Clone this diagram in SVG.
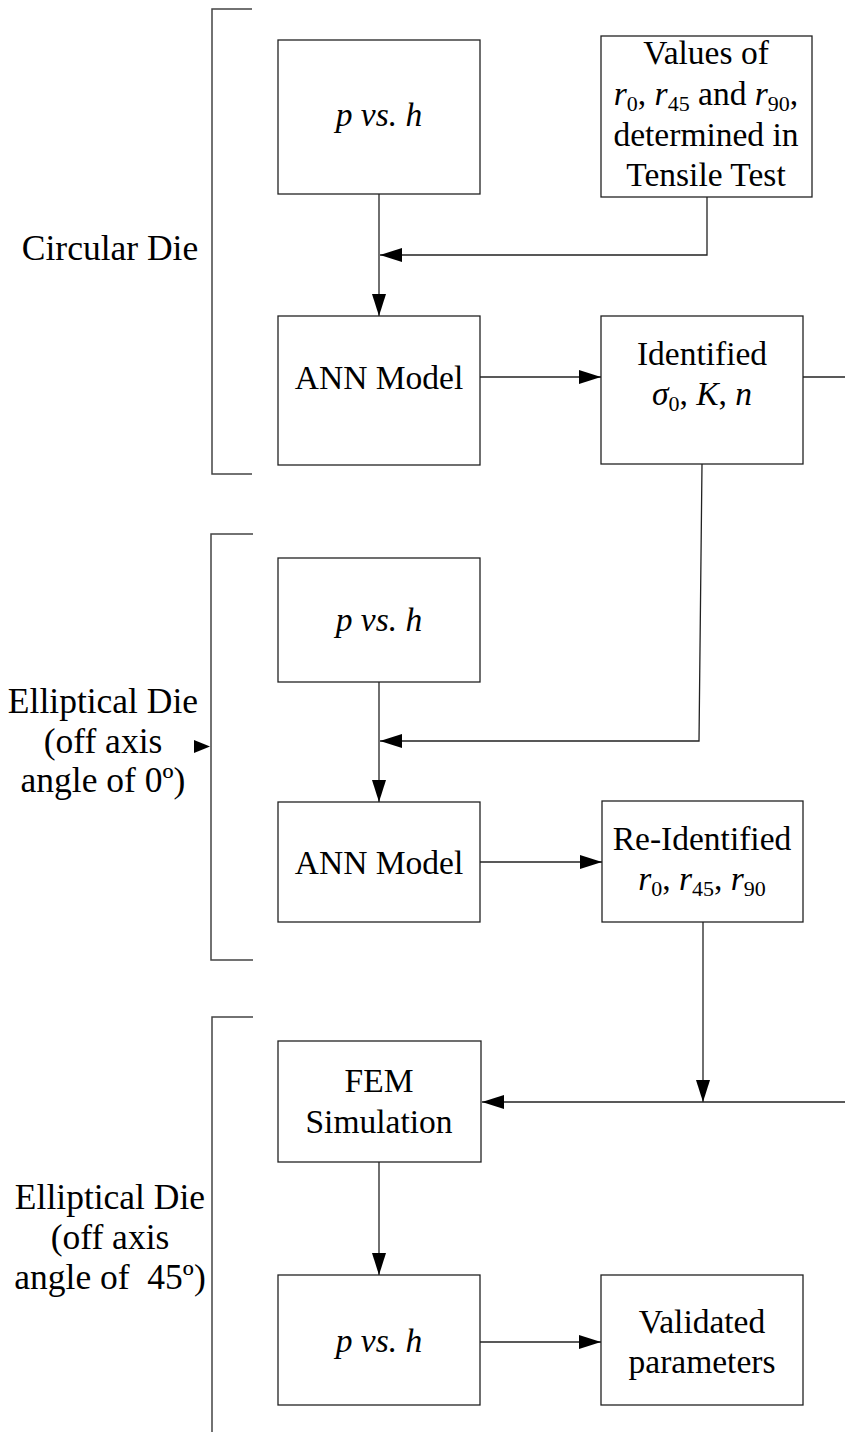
<svg xmlns="http://www.w3.org/2000/svg" width="845" height="1432" viewBox="0 0 845 1432">
  <style>
    .box { fill: #fff; stroke: #222; stroke-width: 1.3; }
    .ln { fill: none; stroke: #222; stroke-width: 1.3; }
    .br { fill: none; stroke: #444; stroke-width: 1.5; }
    text { font-family: 'Liberation Serif', 'Times New Roman', serif; font-size: 33.5px; fill: #000; text-anchor: middle; }
    .lbl { font-size: 35.5px; }
    .i { font-style: italic; }
    .sub { font-size: 22px; }
  </style>
  <defs>
    <marker id="arr" viewBox="0 0 22 14" refX="22" refY="7" markerWidth="22" markerHeight="14" markerUnits="userSpaceOnUse" orient="auto">
      <path d="M0,0 L22,7 L0,14 Z" fill="#000"/>
    </marker>
  </defs>

  <!-- section brackets and labels -->
  <g id="brackets">
    <path class="br" d="M252,9 H212 V474 H252"/>
    <path class="br" d="M253,534 H211 V960 H253"/>
    <path class="br" d="M253,1017 H212 V1432"/>
  </g>
  <g id="label-circular">
    <text class="lbl" x="110" y="260">Circular Die</text>
  </g>
  <g id="label-elliptical-0">
    <text class="lbl" x="103" y="713">Elliptical Die</text>
    <text class="lbl" x="103" y="753">(off axis</text>
    <text class="lbl" x="103" y="792">angle of 0º)</text>
  </g>
  <g id="label-elliptical-45">
    <text class="lbl" x="110" y="1209">Elliptical Die</text>
    <text class="lbl" x="110" y="1249">(off axis</text>
    <text class="lbl" x="110" y="1289" xml:space="preserve">angle of  45º)</text>
  </g>

  <!-- nodes -->
  <g id="n-pvsh-1">
    <rect class="box" x="278" y="40" width="202" height="154"/>
    <text x="379" y="126" class="i">p vs. h</text>
  </g>
  <g id="n-values">
    <rect class="box" x="601" y="36" width="211" height="161"/>
    <text x="706" y="64">Values of</text>
    <text x="706" y="105"><tspan class="i">r</tspan><tspan class="sub" dy="6">0</tspan><tspan dy="-6">, </tspan><tspan class="i">r</tspan><tspan class="sub" dy="6">45</tspan><tspan dy="-6"> and </tspan><tspan class="i">r</tspan><tspan class="sub" dy="6">90</tspan><tspan dy="-6">,</tspan></text>
    <text x="706" y="146">determined in</text>
    <text x="706" y="186">Tensile Test</text>
  </g>
  <g id="n-ann-1">
    <rect class="box" x="278" y="316" width="202" height="149"/>
    <text x="379" y="389">ANN Model</text>
  </g>
  <g id="n-identified">
    <rect class="box" x="601" y="316" width="202" height="148"/>
    <text x="702" y="365">Identified</text>
    <text x="702" y="405"><tspan class="i">σ</tspan><tspan class="sub" dy="6">0</tspan><tspan dy="-6">, </tspan><tspan class="i">K</tspan><tspan>, </tspan><tspan class="i">n</tspan></text>
  </g>
  <g id="n-pvsh-2">
    <rect class="box" x="278" y="558" width="202" height="124"/>
    <text x="379" y="631" class="i">p vs. h</text>
  </g>
  <g id="n-ann-2">
    <rect class="box" x="278" y="802" width="202" height="120"/>
    <text x="379" y="874">ANN Model</text>
  </g>
  <g id="n-reidentified">
    <rect class="box" x="602" y="801" width="201" height="121"/>
    <text x="702" y="850">Re-Identified</text>
    <text x="702" y="890"><tspan class="i">r</tspan><tspan class="sub" dy="6">0</tspan><tspan dy="-6">, </tspan><tspan class="i">r</tspan><tspan class="sub" dy="6">45</tspan><tspan dy="-6">, </tspan><tspan class="i">r</tspan><tspan class="sub" dy="6">90</tspan></text>
  </g>
  <g id="n-fem">
    <rect class="box" x="278" y="1041" width="203" height="121"/>
    <text x="379" y="1092">FEM</text>
    <text x="379" y="1133">Simulation</text>
  </g>
  <g id="n-pvsh-3">
    <rect class="box" x="278" y="1275" width="202" height="130"/>
    <text x="379" y="1352" class="i">p vs. h</text>
  </g>
  <g id="n-validated">
    <rect class="box" x="601" y="1275" width="202" height="130"/>
    <text x="702" y="1333">Validated</text>
    <text x="702" y="1373">parameters</text>
  </g>

  <!-- connectors -->
  <g id="connectors">
    <path class="ln" d="M379,194 V316" marker-end="url(#arr)"/>
    <path class="ln" d="M707,197 V255 H380" marker-end="url(#arr)"/>
    <path class="ln" d="M480,377 H601" marker-end="url(#arr)"/>
    <path class="ln" d="M803,377 H845"/>
    <path class="ln" d="M702,464 L699,741 H380" marker-end="url(#arr)"/>
    <path class="ln" d="M379,682 V802" marker-end="url(#arr)"/>
    <path class="ln" d="M480,862 H602" marker-end="url(#arr)"/>
    <path class="ln" d="M703,922 V1102" marker-end="url(#arr)"/>
    <path class="ln" d="M845,1102 H482" marker-end="url(#arr)"/>
    <path class="ln" d="M379,1162 V1275" marker-end="url(#arr)"/>
    <path class="ln" d="M480,1342 H601" marker-end="url(#arr)"/>
    <path d="M194,740 L210,746.5 L194,753 Z" fill="#000"/>
  </g>
</svg>
